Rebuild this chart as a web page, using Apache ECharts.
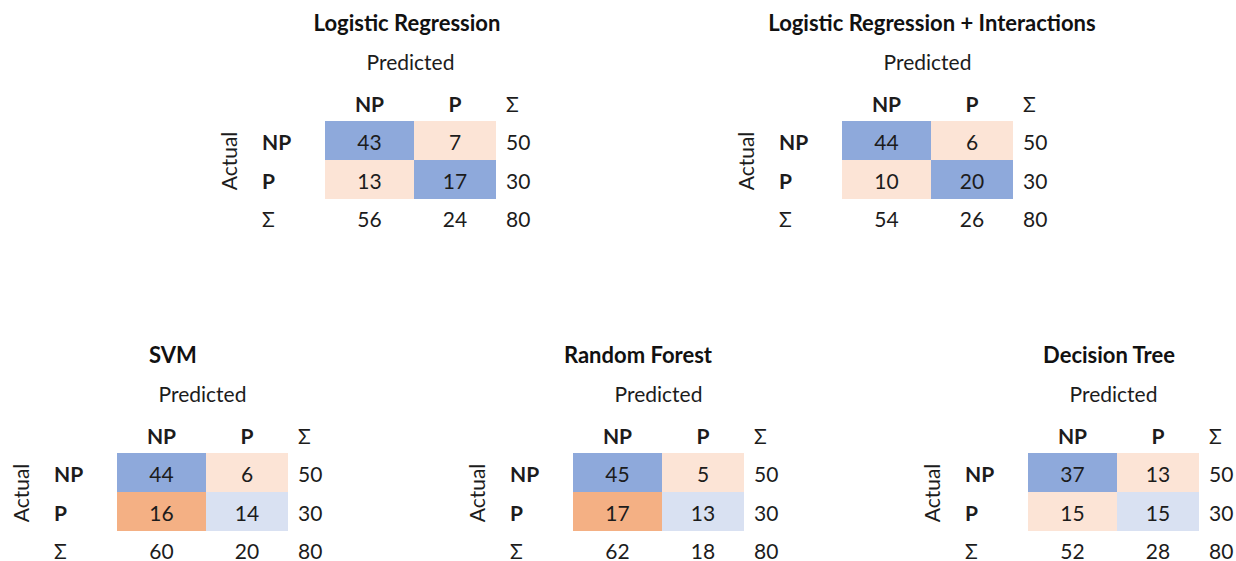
<!DOCTYPE html>
<html><head><meta charset="utf-8">
<script src="https://cdn.jsdelivr.net/npm/echarts@6/dist/echarts.min.js"></script>
<style>html,body{margin:0;padding:0;background:#fff}#c{width:1236px;height:561px}</style>
</head><body><div id="c"></div>
<script>
// ---- data ----
const MODELS = ['Logistic Regression', 'Logistic Regression + Interactions', 'SVM', 'Random Forest', 'Decision Tree'];
const CLASSES = ['NP', 'P'];
const TN = [43, 44, 44, 45, 37];   // actual NP, predicted NP
const FP = [7, 6, 6, 5, 13];       // actual NP, predicted P
const FN = [13, 10, 16, 17, 15];   // actual P, predicted NP
const TP = [17, 20, 14, 13, 15];   // actual P, predicted P
const LABEL_PRED = 'Predicted';
const LABEL_ACT = 'Actual';
const LABEL_SUM = 'Σ';

// ---- layout / style ----
const PANELS = [
  {left: 325, top: 121, titleDx: 82},
  {left: 842, top: 121, titleDx: 90},
  {left: 117, top: 453, titleDx: 56},
  {left: 573, top: 453, titleDx: 65},
  {left: 1028, top: 453, titleDx: 81}
];
const GRID_W = 171, GRID_H = 78, SPLIT = 89 / 171 * 2;
const FONT = 'Lato, "Noto Sans", sans-serif';
const FS = 21;
const TXT = '#1c1c1c';
const COLORS = {diagStrong: '#8EA9DB', diagWeak: '#D9E1F2', offStrong: '#F4B084', offWeak: '#FCE4D6'};

function matrix(i) { return [[TN[i], FP[i]], [FN[i], TP[i]]]; }

function cellColor(r, c, v, rowSum) {
  const strong = v / rowSum > 0.5;
  if (r === c) return strong ? COLORS.diagStrong : COLORS.diagWeak;
  return strong ? COLORS.offStrong : COLORS.offWeak;
}

function txt(x, y, text, opts) {
  opts = opts || {};
  return {
    type: 'text', x: x, y: y, rotation: opts.rotation || 0,
    style: {
      text: text, x: 0, y: 0,
      fill: opts.fill || TXT,
      fontFamily: FONT, fontSize: opts.size || FS, fontWeight: opts.bold ? 'bold' : 'normal',
      align: opts.align || 'center', verticalAlign: 'middle'
    }
  };
}

const grids = [], xAxes = [], yAxes = [], series = [];
PANELS.forEach((p, i) => {
  grids.push({left: p.left, top: p.top, width: GRID_W, height: GRID_H});
  xAxes.push({type: 'value', gridIndex: i, min: 0, max: 2, show: false});
  yAxes.push({type: 'value', gridIndex: i, min: 0, max: 2, inverse: true, show: false});
  const m = matrix(i);
  const rowSums = m.map(r => r[0] + r[1]);
  const colSums = [m[0][0] + m[1][0], m[0][1] + m[1][1]];
  const total = rowSums[0] + rowSums[1];
  const cells = [];
  m.forEach((row, r) => row.forEach((v, c) => cells.push([c, r, v, rowSums[r]])));

  series.push({
    type: 'custom', xAxisIndex: i, yAxisIndex: i, clip: false, silent: true,
    data: cells,
    renderItem: function (params, api) {
      const c = api.value(0), r = api.value(1), v = api.value(2), rs = api.value(3);
      const x0 = c === 0 ? 0 : SPLIT, x1 = c === 0 ? SPLIT : 2;
      const p0 = api.coord([x0, r]), p1 = api.coord([x1, r + 1]);
      return {
        type: 'group', children: [
          {type: 'rect', shape: {x: p0[0], y: p0[1], width: p1[0] - p0[0], height: p1[1] - p0[1]},
            style: {fill: cellColor(r, c, v, rs)}},
          txt((p0[0] + p1[0]) / 2, (p0[1] + p1[1]) / 2 + 1, String(v))
        ]
      };
    }
  });

  series.push({
    type: 'custom', xAxisIndex: i, yAxisIndex: i, clip: false, silent: true,
    data: [[0, 0]],
    renderItem: function (params, api) {
      const o = api.coord([0, 0]);
      const midR0 = api.coord([0, 0.5])[1], midR1 = api.coord([0, 1.5])[1];
      const cx0 = api.coord([SPLIT / 2, 0])[0], cx1 = api.coord([(SPLIT + 2) / 2, 0])[0];
      const ox = o[0], oy = o[1];
      const ch = [];
      ch.push(txt(ox + p.titleDx, oy - 99, MODELS[i], {bold: true, fill: '#111', size: 22}));
      ch.push(txt(ox + GRID_W / 2, oy - 60, LABEL_PRED));
      ch.push(txt(cx0, oy - 18, CLASSES[0], {bold: true}));
      ch.push(txt(cx1, oy - 18, CLASSES[1], {bold: true}));
      ch.push(txt(ox + 181, oy - 18, LABEL_SUM, {align: 'left'}));
      ch.push(txt(ox - 63, midR0 + 1, CLASSES[0], {bold: true, align: 'left'}));
      ch.push(txt(ox - 63, midR1 + 1, CLASSES[1], {bold: true, align: 'left'}));
      ch.push(txt(ox - 63, oy + 97, LABEL_SUM, {align: 'left'}));
      ch.push(txt(ox + 181, midR0 + 1, String(rowSums[0]), {align: 'left'}));
      ch.push(txt(ox + 181, midR1 + 1, String(rowSums[1]), {align: 'left'}));
      ch.push(txt(cx0, oy + 97, String(colSums[0])));
      ch.push(txt(cx1, oy + 97, String(colSums[1])));
      ch.push(txt(ox + 181, oy + 97, String(total), {align: 'left'}));
      ch.push(txt(ox - 97, oy + GRID_H / 2 + 1, LABEL_ACT, {rotation: Math.PI / 2}));
      return {type: 'group', children: ch};
    }
  });
});

const chart = echarts.init(document.getElementById('c'), null, {renderer: 'svg'});
chart.setOption({
  animation: false,
  backgroundColor: '#fff',
  grid: grids, xAxis: xAxes, yAxis: yAxes, series: series
});
</script>
</body></html>
